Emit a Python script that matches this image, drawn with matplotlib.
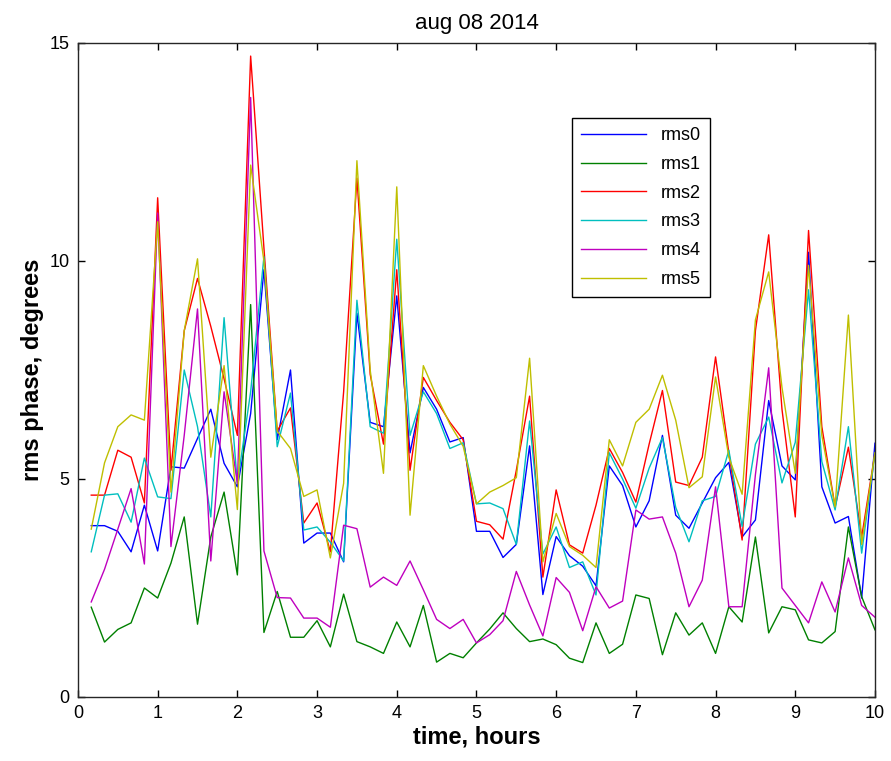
import numpy as np
import matplotlib
matplotlib.use('Agg')
import matplotlib.pyplot as plt

# --- Data: rms phase every 10 minutes (k/6 hours, k = 1..60) ---
time_hours = np.arange(1, 61) / 6.0

rms0 = [3.93, 3.93, 3.8, 3.33, 4.4, 3.35, 5.28, 5.25, 5.93, 6.6, 5.36, 4.82,
        6.5, 9.8, 5.9, 7.5, 3.53, 3.76, 3.76, 3.1, 8.8, 6.3, 6.2, 9.2,
        5.6, 7.1, 6.6, 5.85, 5.95, 3.8, 3.8, 3.2, 3.5, 5.76, 2.35, 3.68,
        3.24, 3.0, 2.55, 5.3, 4.85, 3.9, 4.5, 6.0, 4.17, 3.87, 4.45, 5.03,
        5.38, 3.67, 4.06, 6.8, 5.3, 4.98, 10.2, 4.82, 3.99, 4.14, 2.27, 5.82]

rms1 = [2.06, 1.26, 1.55, 1.7, 2.5, 2.27, 3.07, 4.13, 1.67, 3.67, 4.7, 2.8,
        9.0, 1.48, 2.42, 1.37, 1.37, 1.75, 1.15, 2.36, 1.27, 1.15, 1.0, 1.72,
        1.15, 2.1, 0.8, 1.0, 0.9, 1.24, 1.56, 1.93, 1.57, 1.27, 1.33, 1.2,
        0.89, 0.79, 1.7, 1.0, 1.21, 2.34, 2.26, 0.97, 1.93, 1.42, 1.7, 1.0,
        2.07, 1.72, 3.67, 1.47, 2.07, 2.0, 1.31, 1.24, 1.5, 3.9, 2.3, 1.54]

rms2 = [4.63, 4.63, 5.66, 5.5, 4.45, 11.45, 5.2, 8.4, 9.6, 8.5, 7.3, 6.0,
        14.7, 10.3, 6.1, 6.63, 3.99, 4.45, 3.33, 7.0, 11.9, 7.4, 5.8, 9.8,
        5.2, 7.33, 6.8, 6.3, 5.9, 4.03, 3.95, 3.62, 5.2, 6.9, 2.75, 4.75,
        3.49, 3.3, 4.4, 5.7, 5.15, 4.47, 5.8, 7.03, 4.93, 4.85, 5.5, 7.8,
        5.6, 3.6, 8.4, 10.6, 6.6, 4.13, 10.7, 6.2, 4.36, 5.73, 3.67, 5.6]

rms3 = [3.33, 4.63, 4.66, 4.01, 5.48, 4.59, 4.55, 7.5, 6.2, 4.13, 8.7, 4.9,
        7.0, 10.1, 5.74, 6.97, 3.83, 3.9, 3.55, 3.12, 9.1, 6.2, 6.05, 10.5,
        6.0, 7.0, 6.5, 5.7, 5.83, 4.43, 4.45, 4.32, 3.5, 6.33, 3.28, 3.9,
        2.97, 3.1, 2.34, 5.6, 5.0, 4.33, 5.25, 5.95, 4.35, 3.56, 4.5, 4.6,
        5.66, 3.91, 5.8, 6.42, 4.91, 5.84, 9.34, 5.4, 4.29, 6.2, 3.3, 5.6]

rms4 = [2.18, 2.93, 3.85, 4.78, 3.05, 11.1, 3.45, 6.0, 8.9, 3.12, 7.0, 4.9,
        13.75, 3.35, 2.28, 2.27, 1.81, 1.81, 1.6, 3.94, 3.86, 2.52, 2.75, 2.56,
        3.12, 2.46, 1.78, 1.57, 1.78, 1.24, 1.43, 1.75, 2.88, 2.11, 1.4, 2.74,
        2.4, 1.52, 2.53, 2.04, 2.2, 4.29, 4.08, 4.13, 3.3, 2.07, 2.68, 4.82,
        2.07, 2.07, 5.1, 7.55, 2.5, 2.1, 1.7, 2.64, 1.95, 3.19, 2.1, 1.83]

rms5 = [3.85, 5.37, 6.2, 6.47, 6.35, 10.9, 4.7, 8.4, 10.05, 5.5, 7.6, 4.3,
        12.2, 10.0, 6.1, 5.7, 4.6, 4.75, 3.19, 4.9, 12.3, 7.5, 5.13, 11.7,
        4.17, 7.6, 6.9, 6.26, 5.75, 4.43, 4.7, 4.85, 5.03, 7.77, 3.1, 4.21,
        3.45, 3.25, 2.97, 5.9, 5.3, 6.3, 6.6, 7.38, 6.35, 4.8, 5.05, 7.34,
        5.5, 4.65, 8.65, 9.75, 7.1, 5.13, 9.9, 6.0, 4.36, 8.76, 3.5, 5.6]

series = [rms0, rms1, rms2, rms3, rms4, rms5]
labels = ['rms0', 'rms1', 'rms2', 'rms3', 'rms4', 'rms5']
# old MATLAB colour order
colors = ['#0000ff', '#008000', '#ff0000', '#00bfbf', '#bf00bf', '#bfbf00']

plt.rcParams['font.family'] = ['Liberation Sans', 'DejaVu Sans']

fig = plt.figure(figsize=(8.91, 7.61), dpi=100)
ax = fig.add_axes([0.0875, 0.0841, 0.8945, 0.8594])

for vals, lab, col in zip(series, labels, colors):
    ax.plot(time_hours, vals, color=col, lw=1.0, label=lab)

ax.set_xlim(0, 10)
ax.set_ylim(0, 15)
ax.set_xticks(range(0, 11))
ax.set_yticks([0, 5, 10, 15])
ax.tick_params(direction='in', length=5, width=1, top=True, right=True,
               labelsize=13, pad=6)
for sp in ax.spines.values():
    sp.set_linewidth(1.0)
    sp.set_color('#262626')

ax.set_title('aug 08 2014', fontsize=16, pad=10)
ax.set_xlabel('time, hours', fontsize=17, fontweight='bold', labelpad=2)
ax.set_ylabel('rms phase, degrees', fontsize=17, fontweight='bold', labelpad=4)

leg = ax.legend(loc='upper left', bbox_to_anchor=(0.62, 0.885), fontsize=13,
                handlelength=3.6, labelspacing=0.65, borderpad=0.5,
                borderaxespad=0, fancybox=False, framealpha=1,
                edgecolor='black')
leg.get_frame().set_linewidth(1.0)

fig.savefig('out.png', dpi=100)
